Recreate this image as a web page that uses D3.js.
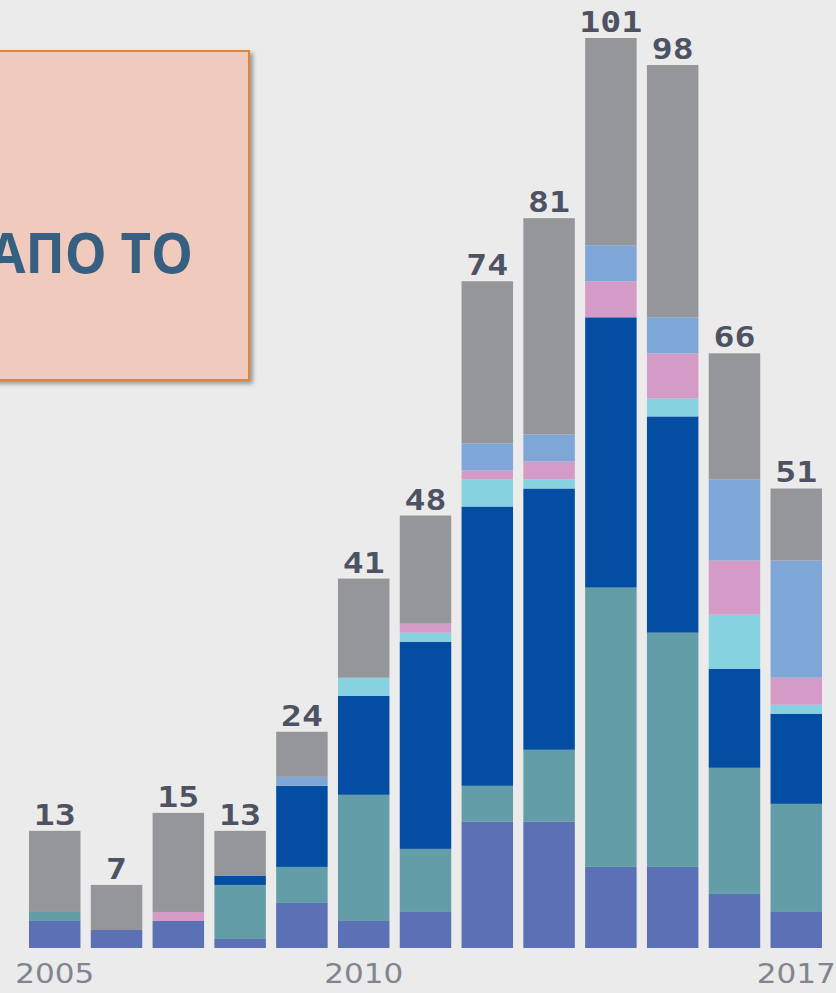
<!DOCTYPE html>
<html>
<head>
<meta charset="utf-8">
<script src="https://cdn.jsdelivr.net/npm/d3@7"></script>
<style>
  html, body { margin: 0; padding: 0; background: #ebebeb; }
  svg { display: block; }
</style>
</head>
<body>
<div id="chart-area"></div>
<script>
// stacked yearly counts, bottom segment first
const YEARS = ["2005","2006","2007","2008","2009","2010","2011","2012","2013","2014","2015","2016","2017"]
const SHOWN_YEARS = ["2005","2010","2017"]
const SERIES = ["s1","s2","s3","s4","s5","s6","s7"]
const COLORS = ["#5b70b5","#639ea8","#034ea2","#87d2e0","#d39bc5","#7ea7d8","#959699"]

const s1 = [3, 2, 3, 1, 5, 3, 4, 14, 14, 9, 9, 6, 4]
const s2 = [1, 0, 0, 6, 4, 14, 7, 4, 8, 31, 26, 14, 12]
const s3 = [0, 0, 0, 1, 9, 11, 23, 31, 29, 30, 24, 11, 10]
const s4 = [0, 0, 0, 0, 0, 2, 1, 3, 1, 0, 2, 6, 1]
const s5 = [0, 0, 1, 0, 0, 0, 1, 1, 2, 4, 5, 6, 3]
const s6 = [0, 0, 0, 0, 1, 0, 0, 3, 3, 4, 4, 9, 13]
const s7 = [9, 5, 11, 5, 5, 11, 12, 18, 24, 23, 28, 14, 8]

const BOX_TEXT = "ΑΠΟ ΤΟ"

const W = 836, H = 993
const MARGIN = { LEFT: 29, RIGHT: 14, TOP: 38, BOTTOM: 45 }

const table = YEARS.map((year, i) => {
  const row = { year }
  ;[s1, s2, s3, s4, s5, s6, s7].forEach((arr, k) => row[SERIES[k]] = arr[i])
  return row
})
const total = d => d3.sum(SERIES, k => d[k])

const svg = d3.select('#chart-area')
  .append('svg')
  .attr('width', W)
  .attr('height', H)

svg.append('rect')
  .attr('width', W).attr('height', H)
  .attr('fill', '#ebebeb')

const x = d3.scaleBand()
  .domain(YEARS)
  .range([MARGIN.LEFT, W - MARGIN.RIGHT])
  .paddingInner(0.167)
  .paddingOuter(0)

const y = d3.scaleLinear()
  .domain([0, d3.max(table, total)])
  .range([H - MARGIN.BOTTOM, MARGIN.TOP])

const stacked = d3.stack().keys(SERIES)(table)

svg.append('g')
  .selectAll('g')
  .data(stacked)
  .join('g')
  .attr('fill', (d, i) => COLORS[i])
  .selectAll('rect')
  .data(d => d)
  .join('rect')
  .attr('x', d => x(d.data.year))
  .attr('width', x.bandwidth())
  .attr('y', d => y(d[1]))
  .attr('height', d => y(d[0]) - y(d[1]))

// totals above bars
svg.append('g')
  .selectAll('text')
  .data(table)
  .join('text')
  .attr('x', d => x(d.year) + x.bandwidth() / 2)
  .attr('y', d => y(total(d)) - 6)
  .attr('text-anchor', 'middle')
  .attr('font-family', 'DejaVu Sans Mono')
  .attr('font-weight', 700)
  .attr('font-size', 28)
  .attr('fill', '#4d5362')
  .attr('textLength', d => String(total(d)).length * 21)
  .attr('lengthAdjust', 'spacingAndGlyphs')
  .text(total)

// year axis, only a few labels
const xAxis = svg.append('g')
  .attr('transform', `translate(0, ${H - MARGIN.BOTTOM})`)
  .call(d3.axisBottom(x).tickValues(SHOWN_YEARS).tickSize(0).tickPadding(17))
xAxis.select('.domain').remove()
xAxis.selectAll('text')
  .attr('font-family', 'DejaVu Sans')
  .attr('font-size', 26)
  .attr('fill', '#80858f')
  .attr('textLength', 79)
  .attr('lengthAdjust', 'spacingAndGlyphs')

// callout box
const defs = svg.append('defs')
const shadow = defs.append('filter').attr('id', 'shadow')
  .attr('x', '-10%').attr('y', '-10%').attr('width', '130%').attr('height', '130%')
shadow.append('feDropShadow')
  .attr('dx', 3).attr('dy', 3).attr('stdDeviation', 2)
  .attr('flood-color', '#000').attr('flood-opacity', 0.35)

svg.append('rect')
  .attr('x', -20).attr('y', 51)
  .attr('width', 269).attr('height', 329)
  .attr('fill', '#f0cbbd')
  .attr('stroke', '#e3823e')
  .attr('stroke-width', 2)
  .attr('filter', 'url(#shadow)')

svg.append('text')
  .attr('x', 193).attr('y', 273)
  .attr('text-anchor', 'end')
  .attr('font-family', 'Open Sans')
  .attr('font-weight', 700)
  .attr('font-size', 56)
  .attr('fill', '#365f81')
  .attr('textLength', 204)
  .attr('lengthAdjust', 'spacingAndGlyphs')
  .text(BOX_TEXT)
</script>
</body>
</html>
